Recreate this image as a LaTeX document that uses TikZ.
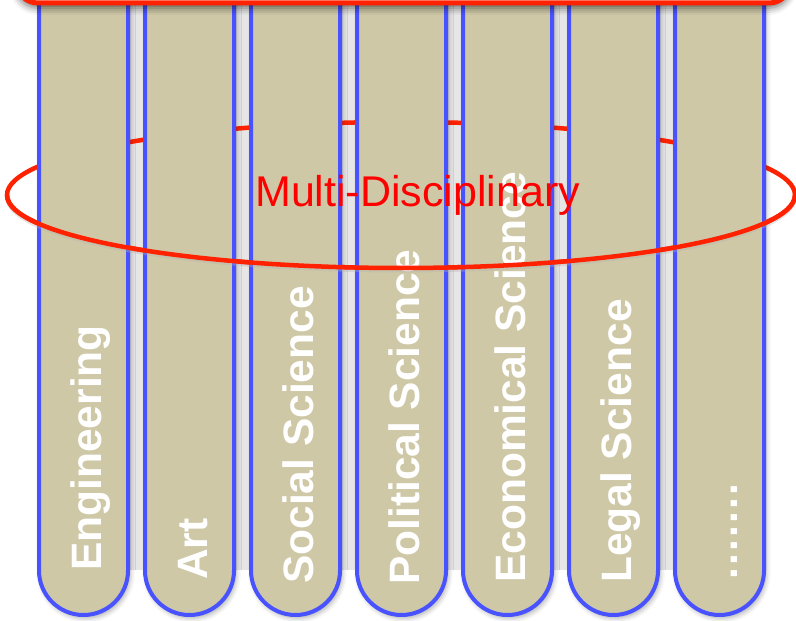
\documentclass[tikz,border=0pt]{standalone}
\usepackage{fontspec}
\setmainfont{Liberation Sans}
\usetikzlibrary{shadows.blur}
\definecolor{barfill}{HTML}{CFC8A7}
\definecolor{barline}{HTML}{4852FF}
\definecolor{ringred}{HTML}{FF2200}
\definecolor{gapgrey}{HTML}{E6E6E6}
\tikzset{
  barshape/.style={fill=barfill, draw=barline, line width=4pt,
    blur shadow={shadow xshift=2pt, shadow yshift=-3pt, shadow blur radius=5pt, shadow opacity=35}},
  ringline/.style={draw=ringred, line width=4.5pt},
  barlabel/.style={rotate=90, anchor=base west, inner sep=0pt, text=white,
    font=\fontsize{42.5}{50}\selectfont\bfseries},
  ringlabel/.style={anchor=base west, inner sep=0pt, text=red,
    font=\fontsize{43}{50}\selectfont},
}
\newcommand{\dotrun}{.\kern2.3pt.\kern2.3pt.\kern2.3pt.\kern2.3pt.\kern2.3pt.\kern2.3pt.}
\begin{document}
\begin{tikzpicture}[x=1pt,y=1pt]
\useasboundingbox (0,0) rectangle (796,621);
\clip (0,0) rectangle (796,621);
% grey gaps between bars
\fill[gapgrey] (130,50.5) rectangle (675,640);
% back part of the ellipse
\draw[ringline] (401,426) ellipse [x radius=394, y radius=73];
% bars
\foreach \c in {83.5,189.5,295.5,401.5,507.5,613.5,719.5}{
  \draw[barshape] (\c-44.5,640) -- (\c-44.5,50.5)
     arc[start angle=180, end angle=360, radius=44.5] -- (\c+44.5,640) -- cycle;
}
% labels
\node[barlabel] (eng) at (101.5,50) {Engineering};
\node[barlabel] (art) at (207.5,41) {Art};
\node[barlabel] (soc) at (313.5,37) {Social Science};
\node[barlabel] (pol) at (419.5,36) {Political Science};
\node[barlabel] (eco) at (525.5,38) {Economical Science};
\node[barlabel] (leg) at (631.5,38) {Legal Science};
\node[barlabel] (etc) at (737.5,41) {\dotrun};
% front part of the ellipse
\draw[gray!60, line width=3pt, opacity=0.35] (7,423) arc[start angle=180, end angle=360, x radius=394, y radius=73];
\draw[ringline] (7,426) arc[start angle=180, end angle=360, x radius=394, y radius=73];
\node[ringlabel] (multi) at (255,414) {Multi-Disciplinary};
% top box
\draw[ringred, line width=5pt, fill=white, rounded corners=22pt,
  blur shadow={shadow xshift=0pt, shadow yshift=-5pt, shadow blur radius=7pt, shadow opacity=55}]
  (16,618) rectangle (791,700);
\end{tikzpicture}
\end{document}
